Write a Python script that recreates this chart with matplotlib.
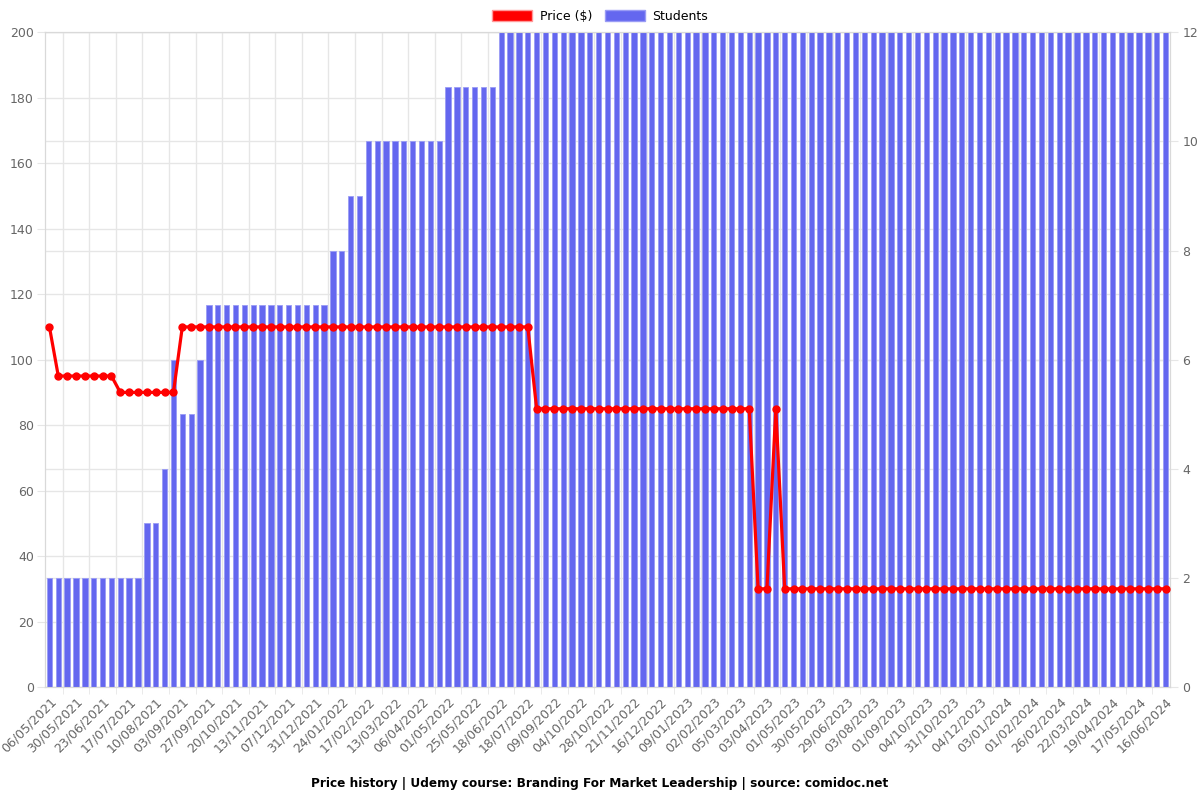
import numpy as np
import matplotlib
matplotlib.use("Agg")
import matplotlib.pyplot as plt
from matplotlib.patches import Patch

# every third date is labelled on the axis
tick_dates = [
    "06/05/2021", "30/05/2021", "23/06/2021", "17/07/2021", "10/08/2021",
    "03/09/2021", "27/09/2021", "20/10/2021", "13/11/2021", "07/12/2021",
    "31/12/2021", "24/01/2022", "17/02/2022", "13/03/2022", "06/04/2022",
    "01/05/2022", "25/05/2022", "18/06/2022", "18/07/2022", "09/09/2022",
    "04/10/2022", "28/10/2022", "21/11/2022", "16/12/2022", "09/01/2023",
    "02/02/2023", "05/03/2023", "03/04/2023", "01/05/2023", "30/05/2023",
    "29/06/2023", "03/08/2023", "01/09/2023", "04/10/2023", "31/10/2023",
    "04/12/2023", "03/01/2024", "01/02/2024", "26/02/2024", "22/03/2024",
    "19/04/2024", "17/05/2024", "16/06/2024",
]

price = [
    110, 95, 95, 95, 95, 95, 95, 95, 90, 90, 90, 90, 90, 90, 90,
    110, 110, 110, 110, 110, 110, 110, 110, 110, 110, 110, 110, 110, 110,
    110, 110, 110, 110, 110, 110, 110, 110, 110, 110, 110, 110, 110, 110,
    110, 110, 110, 110, 110, 110, 110, 110, 110, 110, 110, 110,
    85, 85, 85, 85, 85, 85, 85, 85, 85, 85, 85, 85, 85, 85, 85, 85, 85,
    85, 85, 85, 85, 85, 85, 85, 85,
    30, 30, 85,
    30, 30, 30, 30, 30, 30, 30, 30, 30, 30, 30, 30, 30, 30, 30, 30, 30,
    30, 30, 30, 30, 30, 30, 30, 30, 30, 30, 30, 30, 30, 30, 30, 30, 30,
    30, 30, 30, 30, 30, 30, 30, 30, 30, 30,
]

students = [
    2, 2, 2, 2, 2, 2, 2, 2, 2, 2, 2,
    3, 3, 4, 6, 5, 5, 6,
    7, 7, 7, 7, 7, 7, 7, 7, 7, 7, 7, 7, 7, 7,
    8, 8, 9, 9,
    10, 10, 10, 10, 10, 10, 10, 10, 10,
    11, 11, 11, 11, 11, 11,
    12, 12, 12, 12, 12, 12, 12, 12, 12, 12, 12, 12, 12, 12, 12, 12, 12,
    12, 12, 12, 12, 12, 12, 12, 12, 12, 12, 12, 12, 12, 12, 12, 12, 12,
    12, 12, 12, 12, 12, 12, 12, 12, 12, 12, 12, 12, 12, 12, 12, 12, 12,
    12, 12, 12, 12, 12, 12, 12, 12, 12, 12, 12, 12, 12, 12, 12, 12, 12,
    12, 12, 12, 12, 12, 12, 12, 12,
]

grid_c = '#e6e6e6'
text_c = '#666666'
bar_c = '#6467ef'

fig = plt.figure(figsize=(12, 8), dpi=100)
ax = fig.add_axes([0.0375, 0.14125, 0.9375, 0.8184])
ax2 = ax.twinx()

x = np.arange(len(students))

# price axis (left) carries the price grid, drawn below the bars
ax.set_ylim(0, 200)
ax.set_yticks(np.arange(0, 201, 20))
ax.grid(axis='y', color=grid_c, linewidth=1)
ax.set_xlim(-0.5, len(students) - 0.5)
ax.set_xticks(x[::3])
ax.set_xticklabels(tick_dates, rotation=45, ha='right', va='top',
                   rotation_mode='anchor', fontsize=9, color=text_c)
ax.set_xticks(np.arange(1.5, len(students), 3), minor=True)
ax.grid(axis='x', which='minor', color=grid_c, linewidth=1)
ax.tick_params(axis='x', which='major', length=0, pad=6)
ax.tick_params(axis='x', which='minor', length=5, color=grid_c)
ax.tick_params(axis='y', length=6, pad=2, color=grid_c, labelsize=9, labelcolor=text_c)

# students axis (right) with bars
ax2.set_axisbelow(True)
ax2.bar(x, students, width=0.6, color=bar_c, edgecolor='#9a9cf5', linewidth=0.6, zorder=2)
ax2.set_ylim(0, 12)
ax2.set_yticks(np.arange(0, 13, 2))
ax2.grid(axis='y', color=grid_c, linewidth=1)
ax2.tick_params(axis='y', length=6, pad=3, color=grid_c, labelsize=9, labelcolor=text_c)

# price line drawn in the top axes but on the price scale
ax2.plot(x, price, color='#ff0000', linewidth=2.3, marker='o', markersize=5,
         transform=ax.transData, zorder=5, clip_on=False)
ax2.set_xlim(-0.5, len(students) - 0.5)

for a in (ax, ax2):
    for s in a.spines.values():
        s.set_color('#d9d9d9')

handles = [Patch(facecolor='#ff0000', edgecolor='#ff9999', label='Price ($)'),
           Patch(facecolor=bar_c, edgecolor='#9a9cf5', label='Students')]
fig.legend(handles=handles, loc='center', bbox_to_anchor=(0.5, 0.98), ncol=2,
           frameon=False, fontsize=9, handlelength=3.2, handleheight=1.0,
           columnspacing=1.0, handletextpad=0.6)

fig.text(0.5, 0.021, 'Price history | Udemy course: Branding For Market Leadership | source: comidoc.net',
         ha='center', va='center', fontsize=8.7, fontweight='bold')

fig.savefig('out.png', dpi=100)
